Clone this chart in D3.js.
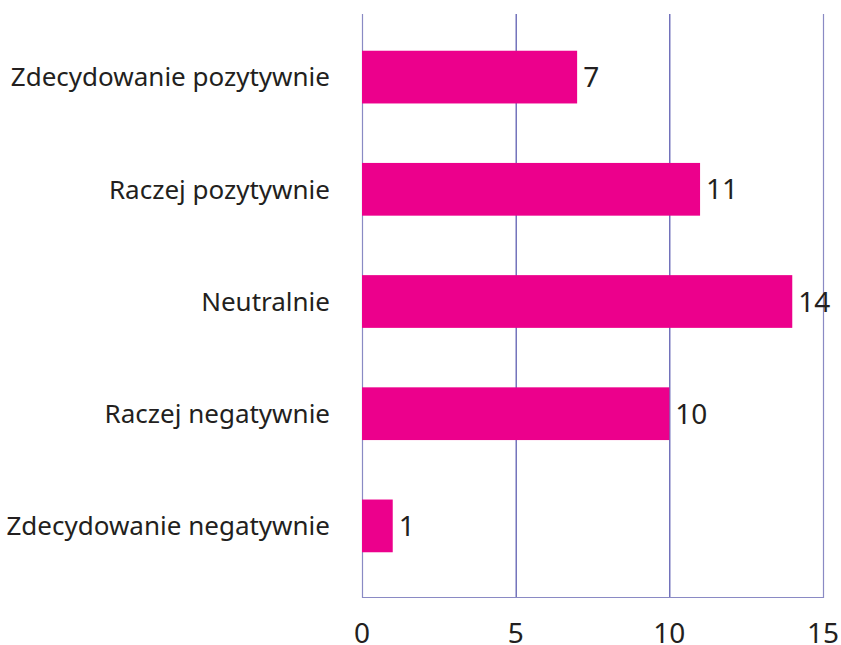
<!DOCTYPE html>
<html>
<head>
<meta charset="utf-8">
<script src="https://cdn.jsdelivr.net/npm/d3@7"></script>
<style>
  body { margin: 0; background: #fff; }
  svg text { font-family: "Noto Sans", "Open Sans", sans-serif; fill: #231f20; }
</style>
</head>
<body>
<div id="chart"></div>
<script>
(function () {
    "use strict";

    var categories = ["Zdecydowanie pozytywnie", "Raczej pozytywnie", "Neutralnie", "Raczej negatywnie", "Zdecydowanie negatywnie"];
    var values = [7, 11, 14, 10, 1];
    var tickValues = [0, 5, 10, 15];

    var width = 841, height = 645;
    var left = 362, right = 823, top = 14, bottom = 597;

    var svg = d3.select("#chart").append("svg")
        .attr("width", width)
        .attr("height", height);

    var x = d3.scaleLinear().domain([0, 15]).range([left, right]);
    var y = d3.scaleBand().domain(categories).range([21, 582]).paddingInner(0.53).paddingOuter(0.265);

    // gridlines inside
    svg.selectAll(".grid")
        .data(tickValues.filter(function (d) { return d > 0 && d < 15; }))
        .enter().append("line")
        .attr("class", "grid")
        .attr("x1", function (d) { return x(d) + 0.5; })
        .attr("x2", function (d) { return x(d) + 0.5; })
        .attr("y1", top).attr("y2", bottom)
        .attr("stroke", "#2e2e9a").attr("stroke-width", 1);

    // frame (left, right, bottom)
    var frame = d3.path();
    frame.moveTo(left + 0.5, top);
    frame.lineTo(left + 0.5, bottom + 0.5);
    frame.lineTo(right + 0.5, bottom + 0.5);
    frame.lineTo(right + 0.5, top);
    svg.append("path").attr("d", frame.toString())
        .attr("fill", "none").attr("stroke", "#8a8ac4").attr("stroke-width", 1.2);

    var bars = svg.selectAll(".bar")
        .data(values)
        .enter().append("g").attr("class", "bar");

    bars.append("rect")
        .attr("x", x(0))
        .attr("y", function (d, i) { return y(categories[i]); })
        .attr("width", function (d) { return x(d) - x(0); })
        .attr("height", y.bandwidth())
        .attr("fill", "#ec008c");

    bars.append("text")
        .attr("x", function (d) { return x(d) + 6; })
        .attr("y", function (d, i) { return y(categories[i]) + y.bandwidth() / 2; })
        .attr("dy", "0.36em")
        .attr("font-size", 28)
        .text(function (d) { return d; });

    // category labels
    svg.selectAll(".cat")
        .data(categories)
        .enter().append("text")
        .attr("class", "cat")
        .attr("x", 330)
        .attr("y", function (d) { return y(d) + y.bandwidth() / 2; })
        .attr("dy", "0.36em")
        .attr("text-anchor", "end")
        .attr("font-size", 26)
        .text(function (d) { return d; });

    // tick labels
    svg.selectAll(".tick")
        .data(tickValues)
        .enter().append("text")
        .attr("class", "tick")
        .attr("x", function (d) { return x(d); })
        .attr("y", 643)
        .attr("text-anchor", "middle")
        .attr("font-size", 28)
        .text(function (d) { return d; });
})();
</script>
</body>
</html>
